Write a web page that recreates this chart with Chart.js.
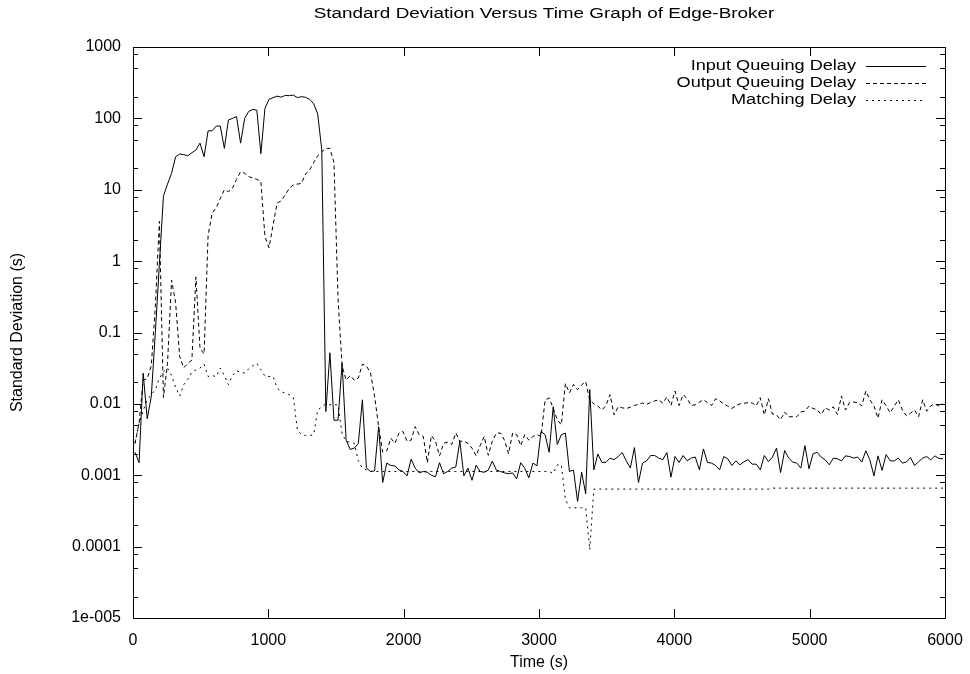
<!DOCTYPE html>
<html><head><meta charset="utf-8">
<script src="https://cdn.jsdelivr.net/npm/chart.js@4/dist/chart.umd.min.js"></script>
<style>html,body{margin:0;padding:0;background:#fff}canvas{display:block}</style>
</head><body>
<canvas id="c" width="970" height="674"></canvas>
<script>
const chartTitle = "Standard Deviation Versus Time Graph of Edge-Broker";
const xTitle = "Time (s)";
const yTitle = "Standard Deviation (s)";
const seriesLabels = ["Input Queuing Delay", "Output Queuing Delay", "Matching Delay"];

const times = [15,45,75,105,135,165,195,225,255,285,315,345,375,405,435,465,495,525,555,585,
615,645,675,705,735,765,795,825,855,885,915,945,975,1005,1035,1065,1095,1125,1155,1185,
1215,1245,1275,1305,1335,1365,1395,1425,1455,1485,1515,1545,1575,1605,1635,1665,1695,1725,1755,1785,
1815,1845,1875,1905,1935,1965,1995,2025,2055,2085,2115,2145,2175,2205,2235,2265,2295,2325,2355,2385,
2415,2445,2475,2505,2535,2565,2595,2625,2655,2685,2715,2745,2775,2805,2835,2865,2895,2925,2955,2985,
3015,3045,3075,3105,3135,3165,3195,3225,3255,3285,3315,3345,3375,3405,3435,3465,3495,3525,3555,3585,
3615,3645,3675,3705,3735,3765,3795,3825,3855,3885,3915,3945,3975,4005,4035,4065,4095,4125,4155,4185,
4215,4245,4275,4305,4335,4365,4395,4425,4455,4485,4515,4545,4575,4605,4635,4665,4695,4725,4755,4785,
4815,4845,4875,4905,4935,4965,4995,5025,5055,5085,5115,5145,5175,5205,5235,5265,5295,5325,5355,5385,
5415,5445,5475,5505,5535,5565,5595,5625,5655,5685,5715,5745,5775,5805,5835,5865,5895,5925,5955,5985];

const inputQueuing = [0.0021,0.0015,0.027,0.0062,0.0126,0.1,0.9,8.2,12,17,
29,31.7,31,30,33,36,45,29,67,67,
78,78,38,95,100,106,45,100,125,134,
130,32,138,185,195,205,198,210,208,212,
195,202,197,185,160,115,36,0.0078,0.052,0.0059,
0.0059,0.037,0.0031,0.0023,0.0024,0.0028,0.0114,0.00126,0.00113,0.00115,
0.0048,0.00079,0.00148,0.00137,0.00135,0.00119,0.00113,0.00098,0.00168,0.00126,
0.00108,0.00113,0.0011,0.001,0.00095,0.0015,0.00105,0.00113,0.00126,0.0013,
0.003,0.00098,0.00126,0.00085,0.00138,0.00113,0.0011,0.00118,0.00158,0.00118,
0.00113,0.00108,0.00105,0.00108,0.00089,0.0015,0.00125,0.00092,0.00148,0.00135,
0.0041,0.0037,0.0021,0.0091,0.0027,0.0037,0.0039,0.00113,0.00118,0.00043,
0.0011,0.00055,0.0159,0.00119,0.00198,0.00151,0.00152,0.00174,0.00165,0.00183,
0.00208,0.00159,0.00126,0.00244,0.00079,0.00148,0.00159,0.00189,0.00189,0.00174,
0.00165,0.00208,0.00094,0.00183,0.00151,0.00189,0.00159,0.00174,0.0018,0.00119,
0.00234,0.00151,0.00148,0.00137,0.00119,0.00183,0.0017,0.00137,0.00159,0.0014,
0.00155,0.00165,0.00143,0.00143,0.00119,0.00189,0.00155,0.0018,0.0024,0.00109,
0.00222,0.00174,0.00153,0.00148,0.00126,0.0026,0.00123,0.002,0.0021,0.0018,
0.00164,0.0014,0.00174,0.0017,0.00159,0.00187,0.00183,0.00174,0.0018,0.00153,
0.0022,0.00164,0.00098,0.00187,0.00117,0.00195,0.00159,0.00159,0.00174,0.00148,
0.00153,0.00177,0.00137,0.00155,0.00174,0.00183,0.00164,0.00187,0.00172,0.0017];

const outputQueuing = [0.0028,0.0054,0.0215,0.0226,0.034,0.23,3.6,0.0123,0.037,0.54,
0.26,0.046,0.032,0.037,0.041,0.6,0.06,0.05,2.3,4.7,
5.6,7.5,10,9.4,10.5,14,17.9,17,15.3,14.6,
14,13,2.2,1.54,3.2,6.5,7,8.5,10.5,11.7,
12,12.3,16.6,19,24,30,34,38,38,24,
0.3,0.034,0.0215,0.025,0.0215,0.023,0.036,0.034,0.027,0.0129,
0.0048,0.0021,0.0022,0.0033,0.0028,0.0039,0.0041,0.003,0.0031,0.0048,
0.0037,0.0035,0.0015,0.0036,0.003,0.00187,0.0028,0.0029,0.0027,0.0039,
0.003,0.003,0.0028,0.0024,0.00187,0.0026,0.0035,0.0019,0.003,0.0039,
0.0039,0.0031,0.002,0.0039,0.0037,0.0026,0.0037,0.0031,0.0035,0.0037,
0.0035,0.0113,0.0121,0.0087,0.006,0.0051,0.0192,0.0143,0.0187,0.0158,
0.0185,0.0205,0.0113,0.0100,0.0093,0.0082,0.0095,0.0135,0.0070,0.0091,
0.0088,0.0086,0.0090,0.0095,0.0098,0.0103,0.0098,0.0105,0.011,0.0114,
0.0102,0.0125,0.0095,0.0151,0.0095,0.0135,0.0118,0.0095,0.0097,0.0106,
0.0114,0.0104,0.0095,0.0118,0.0110,0.0100,0.0093,0.0086,0.0094,0.0100,
0.0102,0.0104,0.0103,0.0094,0.0122,0.0070,0.0118,0.0072,0.0070,0.0060,
0.0077,0.0066,0.0066,0.0066,0.0077,0.0079,0.0093,0.0086,0.0083,0.0071,
0.0088,0.0082,0.0091,0.0071,0.0129,0.0082,0.0105,0.0106,0.0104,0.0094,
0.0151,0.0114,0.0093,0.0063,0.0114,0.0094,0.0075,0.0093,0.0114,0.0082,
0.0068,0.0074,0.0082,0.0066,0.0114,0.0079,0.0094,0.0100,0.0093,0.0100];

const matching = [0.0028,0.0054,0.008,0.0114,0.0135,0.0157,0.0229,0.0283,0.0317,0.025,
0.017,0.0129,0.0186,0.022,0.028,0.03,0.0317,0.036,0.0242,0.025,
0.024,0.0317,0.025,0.0186,0.025,0.029,0.028,0.027,0.031,0.034,
0.037,0.03,0.0245,0.0242,0.0242,0.0166,0.0149,0.0141,0.0135,0.0123,
0.0043,0.0037,0.0036,0.0036,0.0037,0.0082,0.0091,0.01,0.0097,0.0097,
0.0097,0.0038,0.003,0.0029,0.0028,0.0016,0.00126,0.00119,0.00113,0.00113,
0.00113,0.00113,0.00113,0.00113,0.00113,0.00113,0.00113,0.00113,0.00113,0.00113,
0.00113,0.00113,0.00113,0.00113,0.00113,0.00113,0.00113,0.00113,0.00113,0.00113,
0.00113,0.00113,0.00113,0.00113,0.00113,0.00113,0.00113,0.00113,0.00113,0.00113,
0.00113,0.00113,0.00113,0.00113,0.00113,0.00113,0.00113,0.00113,0.00113,0.00113,
0.00113,0.00113,0.00113,0.00106,0.0014,0.0014,0.00046,0.00035,0.00035,0.00035,
0.00035,0.00035,0.00009,0.00064,0.00064,0.00064,0.00064,0.00064,0.00064,0.00064,
0.00064,0.00064,0.00064,0.00064,0.00064,0.00064,0.00064,0.00064,0.00064,0.00064,
0.00064,0.00064,0.00064,0.00064,0.00064,0.00064,0.00064,0.00064,0.00064,0.00064,
0.00064,0.00064,0.00064,0.00064,0.00064,0.00064,0.00064,0.00064,0.00064,0.00064,
0.00064,0.00064,0.00064,0.00064,0.00064,0.00064,0.00064,0.00066,0.00066,0.00066,
0.00066,0.00066,0.00066,0.00066,0.00066,0.00066,0.00066,0.00066,0.00066,0.00066,
0.00066,0.00066,0.00066,0.00066,0.00066,0.00066,0.00066,0.00066,0.00066,0.00066,
0.00066,0.00066,0.00066,0.00066,0.00066,0.00066,0.00066,0.00066,0.00066,0.00066,
0.00066,0.00066,0.00066,0.00066,0.00066,0.00066,0.00066,0.00066,0.00066,0.00066];

const xTickValues = [0, 1000, 2000, 3000, 4000, 5000, 6000];
const xTickLabels = ["0", "1000", "2000", "3000", "4000", "5000", "6000"];
const yTickValues = [1e-5, 1e-4, 1e-3, 1e-2, 1e-1, 1, 10, 100, 1000];
const yTickLabels = ["1e-005", "0.0001", "0.001", "0.01", "0.1", "1", "10", "100", "1000"];
const minorMultipliers = [2, 5, 8];

const FAMILY = "'Liberation Sans', Arial, Helvetica, sans-serif";
const FS = 16;
const dashes = [[], [4, 3], [2, 4]];

function pts(vals) { return times.map((t, i) => ({ x: t, y: vals[i] })); }

function stretchedText(ctx, text, x, y, sx, align) {
  ctx.save();
  ctx.translate(x, y);
  ctx.scale(sx, 1);
  ctx.textAlign = align;
  ctx.fillText(text, 0, 0);
  ctx.restore();
}

const frame = {
  id: 'frame',
  afterDraw(chart) {
    const ctx = chart.ctx, a = chart.chartArea;
    const xs = chart.scales.x, ys = chart.scales.y;
    ctx.save();
    ctx.strokeStyle = '#000';
    ctx.lineWidth = 1;
    ctx.setLineDash([]);
    ctx.beginPath();
    ctx.rect(Math.round(a.left) + 0.5, Math.round(a.top) + 0.5, Math.round(a.right - a.left), Math.round(a.bottom - a.top));
    ctx.stroke();
    ctx.beginPath();
    yTickValues.forEach(v => {
      const y = Math.round(ys.getPixelForValue(v)) + 0.5;
      ctx.moveTo(a.left, y); ctx.lineTo(a.left + 9, y);
      ctx.moveTo(a.right, y); ctx.lineTo(a.right - 9, y);
    });
    for (let d = 0; d < yTickValues.length - 1; d++) {
      minorMultipliers.forEach(m => {
        const y = Math.round(ys.getPixelForValue(yTickValues[d] * m)) + 0.5;
        ctx.moveTo(a.left, y); ctx.lineTo(a.left + 5, y);
        ctx.moveTo(a.right, y); ctx.lineTo(a.right - 5, y);
      });
    }
    xTickValues.forEach(v => {
      const x = Math.round(xs.getPixelForValue(v)) + 0.5;
      ctx.moveTo(x, a.bottom); ctx.lineTo(x, a.bottom - 9);
      ctx.moveTo(x, a.top); ctx.lineTo(x, a.top + 9);
    });
    ctx.stroke();

    ctx.fillStyle = '#000';
    ctx.font = '15.5px ' + FAMILY;
    ctx.textBaseline = 'middle';
    stretchedText(ctx, chartTitle, (a.left + a.right) / 2 + 5, 14, 1.22, 'center');

    // legend
    chart.data.datasets.forEach((ds, i) => {
      const y = 66 + i * 17;
      stretchedText(ctx, ds.label, 856, y, 1.17, 'right');
      ctx.beginPath();
      ctx.setLineDash(ds.borderDash || []);
      ctx.moveTo(866, Math.round(y) + 0.5);
      ctx.lineTo(926, Math.round(y) + 0.5);
      ctx.stroke();
    });
    ctx.restore();
  }
};

new Chart(document.getElementById('c').getContext('2d'), {
  type: 'line',
  data: {
    datasets: [
      { label: seriesLabels[0], data: pts(inputQueuing), borderColor: '#000', borderWidth: 1, borderDash: dashes[0], pointRadius: 0, tension: 0, fill: false },
      { label: seriesLabels[1], data: pts(outputQueuing), borderColor: '#000', borderWidth: 1, borderDash: dashes[1], pointRadius: 0, tension: 0, fill: false },
      { label: seriesLabels[2], data: pts(matching), borderColor: '#000', borderWidth: 1, borderDash: dashes[2], pointRadius: 0, tension: 0, fill: false }
    ]
  },
  options: {
    responsive: false,
    animation: false,
    devicePixelRatio: 1,
    layout: { padding: { left: 0, right: 25, top: 47, bottom: 0 } },
    plugins: { legend: { display: false }, title: { display: false }, tooltip: { enabled: false } },
    scales: {
      x: {
        type: 'linear', min: 0, max: 6000,
        afterBuildTicks: s => { s.ticks = xTickValues.map(v => ({ value: v })); },
        afterFit: s => { s.height = 56; s.paddingLeft = 0; s.paddingRight = 0; },
        ticks: {
          autoSkip: false, maxRotation: 0, color: '#000', padding: 13,
          font: { family: FAMILY, size: FS },
          callback: v => { const k = xTickValues.indexOf(v); return k >= 0 ? xTickLabels[k] : ''; }
        },
        grid: { display: false, drawTicks: false },
        border: { display: false },
        title: { display: true, text: xTitle, color: '#000', font: { family: FAMILY, size: FS }, padding: { top: 0, bottom: 2 } }
      },
      y: {
        type: 'logarithmic', min: 1e-5, max: 1000,
        afterBuildTicks: s => { s.ticks = yTickValues.map(v => ({ value: v })); },
        afterFit: s => { s.width = 133; s.paddingTop = 0; s.paddingBottom = 0; },
        ticks: {
          autoSkip: false, color: '#000', padding: 12,
          font: { family: FAMILY, size: FS },
          callback: v => { const k = yTickValues.indexOf(v); return k >= 0 ? yTickLabels[k] : ''; }
        },
        grid: { display: false, drawTicks: false },
        border: { display: false },
        title: { display: true, text: yTitle, color: '#000', font: { family: FAMILY, size: FS }, padding: { top: 8, bottom: 0 } }
      }
    }
  },
  plugins: [frame]
});
</script>
</body></html>
